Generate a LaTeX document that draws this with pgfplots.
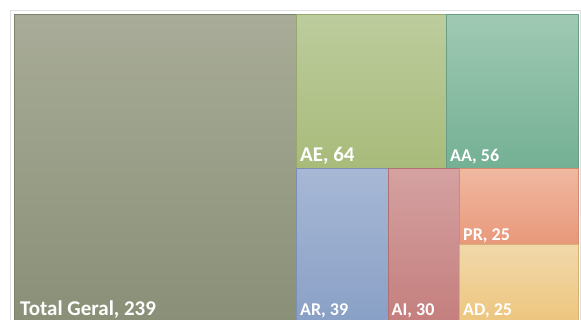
\documentclass[border=0pt]{standalone}
\usepackage{pgfplots}
\pgfplotsset{compat=1.18}
\usepackage{fontspec}
\setmainfont{Carlito}
\definecolor{tgT}{HTML}{A8AC98}\definecolor{tgB}{HTML}{8A9077}
\definecolor{aeT}{HTML}{BDCC9D}\definecolor{aeB}{HTML}{A8BB7A}
\definecolor{aaT}{HTML}{A0C9B3}\definecolor{aaB}{HTML}{73B094}
\definecolor{arT}{HTML}{A7B8D5}\definecolor{arB}{HTML}{89A0C6}
\definecolor{aiT}{HTML}{D5A1A1}\definecolor{aiB}{HTML}{C47F7E}
\definecolor{prT}{HTML}{F0B9A1}\definecolor{prB}{HTML}{E9987A}
\definecolor{adT}{HTML}{F1D8AA}\definecolor{adB}{HTML}{EDC67F}
\tikzset{
  lbl/.style={text=white, font=\bfseries\fontsize{18}{20}\selectfont, anchor=base west, inner sep=0pt},
  lblb/.style={text=white, font=\bfseries\fontsize{21}{24}\selectfont, anchor=base west, inner sep=0pt}}
\begin{document}
\begin{tikzpicture}[x=1pt,y=1pt]
\draw[color=black!12, line width=0.8pt] (10.5,-10.5) rectangle (580,-340);
\begin{axis}[at={(14pt,-14pt)}, anchor=north west, scale only axis,
  width=564pt, height=306.7pt, xmin=0, xmax=564, ymin=0, ymax=306.7,
  hide axis, clip=false]
% Total Geral, 239
\addplot[draw=tgB!90!black, line width=0.6pt, top color=tgT, bottom color=tgB] coordinates {(0,0) (282,0) (282,306.7) (0,306.7)} -- cycle;
% AE, 64
\addplot[draw=aeB!90!black, line width=0.6pt, top color=aeT, bottom color=aeB] coordinates {(282,152.7) (432.4,152.7) (432.4,306.7) (282,306.7)} -- cycle;
% AA, 56
\addplot[draw=aaB!90!black, line width=0.6pt, top color=aaT, bottom color=aaB] coordinates {(432.4,152.7) (564,152.7) (564,306.7) (432.4,306.7)} -- cycle;
% AR, 39
\addplot[draw=arB!90!black, line width=0.6pt, top color=arT, bottom color=arB] coordinates {(282,0) (374.4,0) (374.4,152.7) (282,152.7)} -- cycle;
% AI, 30
\addplot[draw=aiB!90!black, line width=0.6pt, top color=aiT, bottom color=aiB] coordinates {(374.4,0) (445.5,0) (445.5,152.7) (374.4,152.7)} -- cycle;
% PR, 25
\addplot[draw=prB!90!black, line width=0.6pt, top color=prT, bottom color=prB] coordinates {(445.5,76.35) (564,76.35) (564,152.7) (445.5,152.7)} -- cycle;
% AD, 25
\addplot[draw=adB!90!black, line width=0.6pt, top color=adT, bottom color=adB] coordinates {(445.5,0) (564,0) (564,76.35) (445.5,76.35)} -- cycle;
\node[lblb] at (axis cs:6,5.7) {Total Geral, 239};
\node[lblb] at (axis cs:286,159.7) {AE, 64};
\node[lbl] at (axis cs:436,159.2) {AA, 56};
\node[lbl] at (axis cs:286,5.7) {AR, 39};
\node[lbl] at (axis cs:377.5,5.7) {AI, 30};
\node[lbl] at (axis cs:449,80.7) {PR, 25};
\node[lbl] at (axis cs:449,5.7) {AD, 25};
\end{axis}
\pgfresetboundingbox
\useasboundingbox (0,0) rectangle (581,-319);
\end{tikzpicture}
\end{document}
